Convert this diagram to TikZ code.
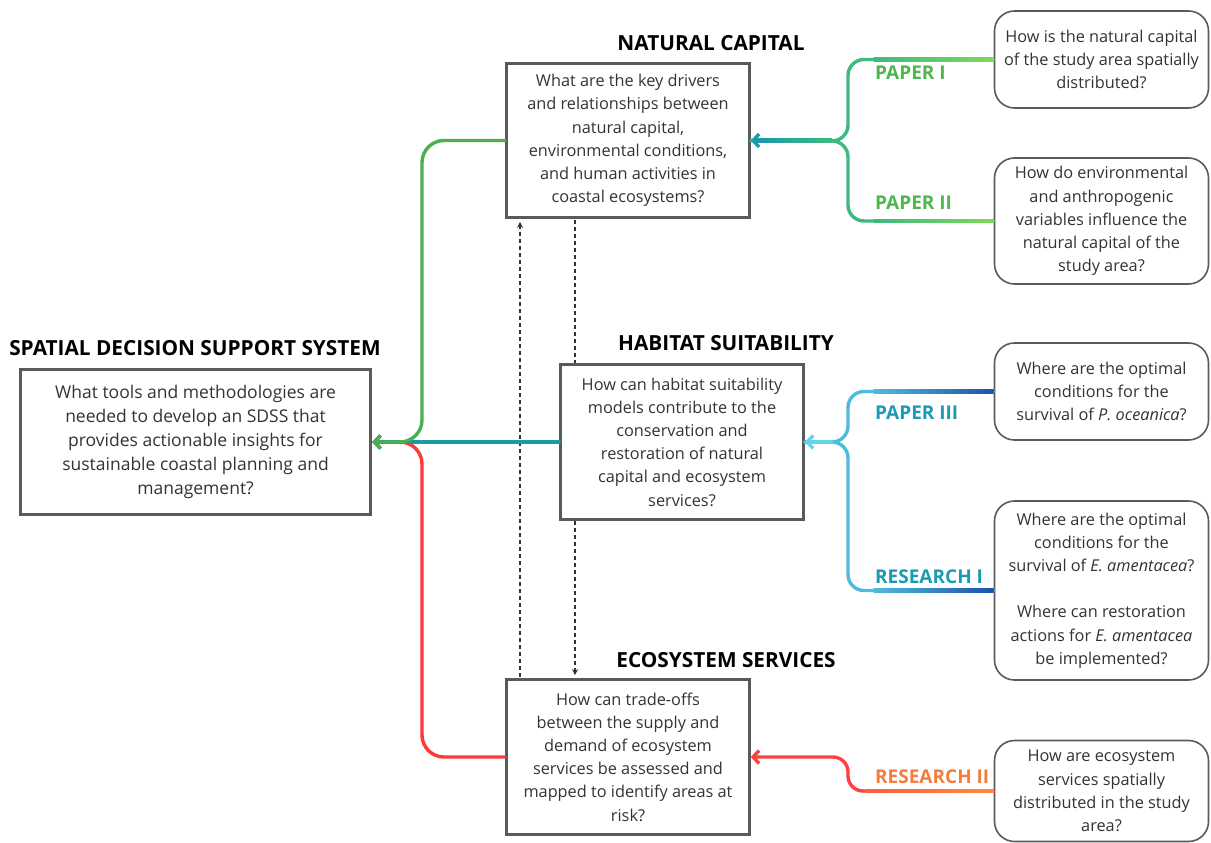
\documentclass[tikz,border=0pt]{standalone}
\usepackage{fontspec}
\setmainfont{Open Sans}
\usetikzlibrary{arrows.meta,calc}
\definecolor{boxgray}{HTML}{5A5A5A}
\definecolor{txtgray}{HTML}{333333}
\definecolor{gA}{HTML}{7ED957}
\definecolor{gB}{HTML}{3DBA7F}
\definecolor{gC}{HTML}{1B9AAA}
\definecolor{glbl}{HTML}{4CB84C}
\definecolor{bA}{HTML}{1E50A8}
\definecolor{bB}{HTML}{4DBCDC}
\definecolor{bC}{HTML}{62D6E8}
\definecolor{blbl}{HTML}{1A9AB4}
\definecolor{oA}{HTML}{FF8A3D}
\definecolor{oC}{HTML}{FF4040}
\definecolor{olbl}{HTML}{F47C3C}
\definecolor{lgreen}{HTML}{4CAF50}
\definecolor{lteal}{HTML}{1A9AA8}
\definecolor{lred}{HTML}{FF3838}
\tikzset{
  qbox/.style={draw=boxgray, line width=2.6pt, fill=white, align=center, inner sep=0pt,
    text=txtgray, font=\fontsize{16.3}{23.2}\selectfont},
  rbox/.style={draw=boxgray, line width=1.6pt, fill=white, align=center, inner sep=0pt,
    rounded corners=20pt, text=txtgray, font=\fontsize{16.3}{23.2}\selectfont,
    minimum width=214pt},
  ttl/.style={font=\fontsize{20.8}{24}\selectfont\bfseries, text=black},
  lbl/.style={font=\fontsize{19}{22}\selectfont\bfseries, anchor=west, inner sep=0pt},
  conn/.style={line width=3.4pt, line cap=round, line join=round},
  tip/.style={-{Straight Barb[length=6pt,width=13pt,line width=3.4pt]}},
  dsh/.style={draw=txtgray, line width=1.1pt, dash pattern=on 4pt off 3pt,
    -{Stealth[length=6pt,width=6pt]}}
}
\begin{document}
\begin{tikzpicture}[x=1pt,y=-1pt]
\useasboundingbox (0,0) rectangle (1211,843);

% main boxes
\node[qbox, line width=3.4pt, minimum width=350pt, minimum height=145pt,
  font=\fontsize{17.5}{24}\selectfont] (sdss) at (195.5,442)
  {What tools and methodologies are\\needed to develop an SDSS that\\provides actionable insights for\\sustainable coastal planning and\\management?};
\node[qbox, minimum width=243pt, minimum height=154pt] (nc) at (628,140.5)
  {What are the key drivers\\and relationships between\\natural capital,\\environmental conditions,\\and human activities in\\coastal ecosystems?};
\node[qbox, minimum width=243pt, minimum height=155pt] (es) at (628,757)
  {How can trade-offs\\between the supply and\\demand of ecosystem\\services be assessed and\\mapped to identify areas at\\risk?};

% dashed links
\coordinate (dx1) at (520,0);
\coordinate (dx2) at (575,0);
\draw[dsh] ($(es.north -| dx1)+(0,-1.5)$) -- ($(nc.south -| dx1)+(0,3)$);
\draw[dsh] ($(nc.south -| dx2)+(0,1.5)$) -- ($(es.north -| dx2)+(0,-3)$);

\node[qbox, minimum width=243pt, minimum height=155pt] (hs) at (682,442)
  {How can habitat suitability\\models contribute to the\\conservation and\\restoration of natural\\capital and ecosystem\\services?};

% titles
\node[ttl] (tsdss) at (195,348) {SPATIAL DECISION SUPPORT SYSTEM};
\node[ttl] (tnc) at (711,43) {NATURAL CAPITAL};
\node[ttl] (ths) at (726,343) {HABITAT SUITABILITY};
\node[ttl] (tes) at (726,660) {ECOSYSTEM SERVICES};

% right boxes
\node[rbox, minimum height=97pt] (b1) at (1101.5,59.5)
  {How is the natural capital\\of the study area spatially\\distributed?};
\node[rbox, minimum height=126pt] (b2) at (1101.5,221)
  {How do environmental\\and anthropogenic\\variables influence the\\natural capital of the\\study area?};
\node[rbox, minimum height=97pt] (b3) at (1101.5,391.5)
  {Where are the optimal\\conditions for the\\survival of \textit{P. oceanica}?};
\node[rbox, minimum height=179pt] (b4) at (1101.5,590.5)
  {Where are the optimal\\conditions for the\\survival of \textit{E. amentacea}?\\[23.2pt]Where can restoration\\actions for \textit{E. amentacea}\\be implemented?};
\node[rbox, minimum height=101pt] (b5) at (1101.5,791)
  {How are ecosystem\\services spatially\\distributed in the study\\area?};

% junctions
\coordinate (j1) at (848,141);
\coordinate (j2) at (848,442);
\coordinate (j3) at (848,0);
\coordinate (jl) at (422,442);

% Paper I / II
\draw[conn, draw=gB, rounded corners=16pt] (b1.west) -| (j1) -- (nc.east);
\draw[conn, draw=gB, rounded corners=16pt] (b2.west) -| (j1) -- (nc.east);
\shade[left color=gB, right color=gA] ($(b1.west)+(-120,-1.7)$) rectangle ($(b1.west)+(0,1.7)$);
\shade[left color=gB, right color=gA] ($(b2.west)+(-120,-1.7)$) rectangle ($(b2.west)+(0,1.7)$);
\shade[left color=gC, right color=gB] ($(nc.east)+(6,-1.7)$) rectangle ($(j1)+(-16,1.7)$);
\draw[conn, draw=gC, tip] ($(nc.east)+(8,0)$) -- (nc.east);
\node[lbl, text=glbl] (lp1) at (875,73) {PAPER I};
\node[lbl, text=glbl] (lp2) at (875,203) {PAPER II};

% Paper III / Research I
\draw[conn, draw=bB, rounded corners=16pt] (b3.west) -| (j2) -- (hs.east);
\draw[conn, draw=bB, rounded corners=16pt] (b4.west) -| (j2) -- (hs.east);
\shade[left color=bB, right color=bA] ($(b3.west)+(-120,-1.7)$) rectangle ($(b3.west)+(0,1.7)$);
\shade[left color=bB, right color=bA] ($(b4.west)+(-120,-1.7)$) rectangle ($(b4.west)+(0,1.7)$);
\draw[conn, draw=bC, tip] ($(j2)+(-16,0)$) -- (hs.east);
\node[lbl, text=blbl] (lp3) at (875,413) {PAPER III};
\node[lbl, text=blbl] (lr1) at (875,577) {RESEARCH I};

% Research II
\draw[conn, draw=oC, rounded corners=15pt, tip] (b5.west) -- (b5.west -| j3) -- (j3 |- es.east) -- (es.east);
\shade[left color=oC!60!oA, right color=oA] ($(b5.west)+(-128,-1.7)$) rectangle ($(b5.west)+(0,1.7)$);
\node[lbl, text=olbl] (lr2) at (875,777) {RESEARCH II};

% left connectors
\draw[conn, draw=lred, rounded corners=22pt, tip] (es.west) -| (jl) -- (sdss.east);
\draw[conn, draw=lteal, tip] (hs.west) -- (sdss.east);
\draw[conn, draw=lgreen, rounded corners=22pt, tip] (nc.west) -| (jl) -- (sdss.east);
\end{tikzpicture}
\end{document}
